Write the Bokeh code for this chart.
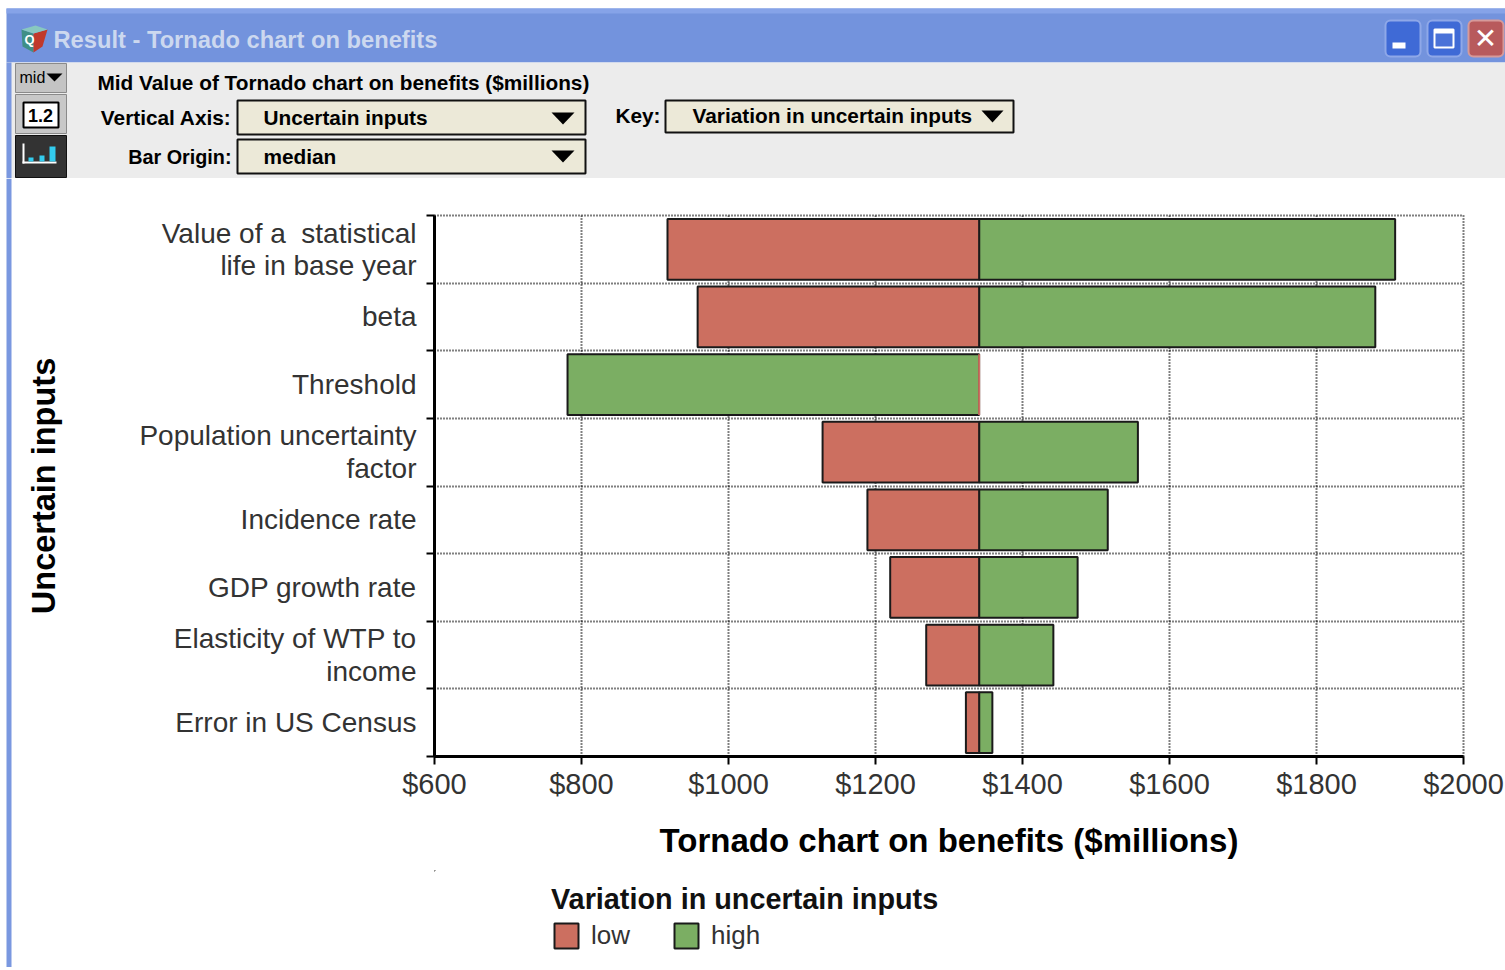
from bokeh.embed import file_html
from bokeh.resources import INLINE
from bokeh.plotting import figure, ColumnDataSource
from bokeh.core.properties import value
from bokeh.layouts import column, row
from bokeh.models import FixedTicker, Range1d, Legend, LegendItem

categories = ["Value of a\u00a0 statistical\nlife in base year", "beta", "Threshold",
              "Population uncertainty\nfactor", "Incidence rate", "GDP growth rate",
              "Elasticity of WTP to\nincome", "Error in US Census"]
low_values = [917, 958, 1341, 1128, 1189, 1220, 1269, 1323]
high_values = [1907, 1880, 781, 1557, 1516, 1475, 1442, 1359]
median_value = 1341
x_ticks = [600, 800, 1000, 1200, 1400, 1600, 1800, 2000]
x_tick_labels = ["$600", "$800", "$1000", "$1200", "$1400", "$1600", "$1800", "$2000"]
series_names = ["low", "high"]

RED = "#cc6f60"
GREEN = "#7bae63"
EDGE = "#1a1a1a"
W, H = 1505, 970
TOP_H = 178      # window header strip
LEFT_W = 12      # window left border
BOT_H = 3        # window bottom border
LEG_H = 97       # legend strip
FRAME_L = 434    # left edge of the plot frame
CW, CH = W - LEFT_W, H - TOP_H - BOT_H - LEG_H
CHART_BOTTOM = TOP_H + CH

p = figure(width=CW, height=CH, output_backend="svg", toolbar_location=None,
           x_range=Range1d(600, 2000), y_range=Range1d(8, 0),
           min_border_left=FRAME_L - LEFT_W, min_border_right=W - 1463,
           min_border_top=215 - TOP_H, min_border_bottom=CHART_BOTTOM - 756,
           outline_line_color="black", outline_line_dash="1 2", outline_line_width=2,
           background_fill_color="white", border_fill_color="white")

rows = list(range(len(categories)))
centres = [r + 0.5 for r in rows]
bounds = list(range(len(categories) + 1))
src = ColumnDataSource(dict(y=centres, low=low_values, high=high_values,
                            mid=[median_value] * len(rows),
                            low_edge=[RED if l == median_value else EDGE for l in low_values]))
p.hbar(y="y", left="mid", right="high", height=0.9, source=src,
       fill_color=GREEN, line_color=EDGE, line_width=2)
p.hbar(y="y", left="low", right="mid", height=0.9, source=src,
       fill_color=RED, line_color="low_edge", line_width=2)

xa = p.xaxis[0]
xa.ticker = FixedTicker(ticks=x_ticks)
xa.major_label_overrides = dict(zip(x_ticks, x_tick_labels))
xa.major_label_text_font = "Liberation Sans"
xa.major_label_text_font_size = "29px"
xa.major_label_text_color = "#333333"
xa.major_label_standoff = 3
xa.major_tick_in = 0
xa.major_tick_out = 8
xa.major_tick_line_color = "black"
xa.major_tick_line_width = 2
xa.minor_tick_line_color = None
xa.axis_line_color = "black"
xa.axis_line_width = 3
xa.axis_label = "Tornado chart on benefits ($millions)"
xa.axis_label_text_font = "Liberation Sans"
xa.axis_label_text_font_style = "bold"
xa.axis_label_text_font_size = "33px"
xa.axis_label_text_color = "black"
xa.axis_label_standoff = 19

ya = p.yaxis[0]
ya.ticker = FixedTicker(ticks=centres, minor_ticks=bounds)
ya.major_label_overrides = dict(zip(centres, categories))
ya.major_label_text_font = "Liberation Sans"
ya.major_label_text_font_size = "28px"
ya.major_label_text_color = "#333333"
ya.major_label_text_line_height = 1.05
ya.major_label_standoff = 10
ya.major_tick_in = 0
ya.major_tick_out = 0
ya.minor_tick_in = 0
ya.minor_tick_out = 8
ya.minor_tick_line_color = "black"
ya.minor_tick_line_width = 2
ya.axis_line_color = "black"
ya.axis_line_width = 3
ya.axis_label = "Uncertain inputs"
ya.axis_label_text_font = "Liberation Sans"
ya.axis_label_text_font_style = "bold"
ya.axis_label_text_font_size = "32.5px"
ya.axis_label_text_color = "black"
ya.axis_label_standoff = 74

p.xgrid.ticker = FixedTicker(ticks=x_ticks)
p.ygrid.ticker = FixedTicker(ticks=bounds)
for g in (p.xgrid[0], p.ygrid[0]):
    g.grid_line_color = "black"
    g.grid_line_dash = "1 2"
    g.grid_line_width = 2


def strip(width, height, x0, y0):
    return figure(width=width, height=height, output_backend="svg", toolbar_location=None,
                  x_range=Range1d(x0, x0 + width), y_range=Range1d(y0 + height, y0),
                  x_axis_type=None, y_axis_type=None,
                  min_border=0, outline_line_color=None, background_fill_color="white",
                  border_fill_color="white")


top = strip(W, TOP_H, 0, 0)
left_bar = strip(LEFT_W, CH + LEG_H, 0, TOP_H)
bottom_bar = strip(W, BOT_H, 0, H - BOT_H)
leg = strip(CW, LEG_H, LEFT_W, CHART_BOTTOM)

# legend keys: same colours as the bars; their one row lies far outside the strip's range
key_src = ColumnDataSource(dict(y=[-10000], left=[-10000], right=[-10000]))
k_low = leg.hbar(y="y", left="left", right="right", height=1, source=key_src,
                 fill_color=RED, line_color=EDGE, line_width=2)
k_high = leg.hbar(y="y", left="left", right="right", height=1, source=key_src,
                  fill_color=GREEN, line_color=EDGE, line_width=2)
legend = Legend(items=[LegendItem(label=series_names[0], renderers=[k_low]),
                       LegendItem(label=series_names[1], renderers=[k_high])],
                orientation="horizontal", location=(551 - FRAME_L, H - BOT_H - 951),
                title="Variation in uncertain inputs", title_standoff=4,
                title_text_font="Liberation Sans", title_text_font_size="28.8px",
                title_text_font_style="bold", title_text_color="#111111",
                label_text_font="Liberation Sans", label_text_font_size="26px",
                label_text_color="#333333",
                glyph_width=30, glyph_height=31, label_standoff=10,
                spacing=41, margin=0, padding=0,
                background_fill_alpha=0, border_line_color=None)
leg.add_layout(legend, "center")


def box(l, t, r, b, color, line=None, lw=1, radius=0, f=top):
    f.quad(left=[l], right=[r], top=[t], bottom=[b], fill_color=color, line_color=line,
           line_width=lw, border_radius=radius)


def label(x, y, text, size, color="black", style="normal", align="left",
          font="Liberation Sans"):
    top.text(x=[x], y=[y], text=[text], text_font=value(font), text_font_size=f"{size}px",
             text_color=color, text_font_style=style, text_align=align,
             text_baseline="middle")


def arrow(l, r, t, b):
    top.patch([l, r, (l + r) / 2], [t, t, b], fill_color="black", line_color=None)


left_bar.quad(left=[6], right=[11], top=[TOP_H], bottom=[TOP_H + CH + LEG_H],
              fill_color="#7a98e0", line_color=None)
bottom_bar.quad(left=[6], right=[W], top=[H - BOT_H], bottom=[H],
                fill_color="#8ba3e2", line_color=None)

box(6, 8, W, 62, "#7393dd")
box(6, 8, W, 13, "#86a3e8")
box(6, 62, W, TOP_H, "#ececec")
box(6, 62, 11, TOP_H, "#7a98e0")
# title icon
top.patch([21, 33, 33, 22], [29, 33, 52, 46], fill_color="#3f8f86", line_color=None)
top.patch([33, 47, 42, 33], [33, 29, 46, 52], fill_color="#c0392b", line_color=None)
top.patch([21, 33, 47, 35], [29, 33, 29, 25], fill_color="#88c8c0", line_color=None)
label(24, 39, "Q", 13, "white", "bold")
label(53, 39, "Result - Tornado chart on benefits", 23.7, "#ccd8ef", "bold")
# window buttons
box(1385, 20, 1420, 56, "#3f6ad6", "#8fa8e8", 2, 5)
box(1392, 42, 1405, 48, "white")
box(1427, 20, 1461, 56, "#3f6ad6", "#8fa8e8", 2, 5)
box(1434, 29, 1453, 47, "#4a72d8", "white", 2)
box(1434, 29, 1453, 33, "white")
box(1468, 20, 1503, 56, "#b85a5c", "#d69a9a", 2, 5)
label(1485, 38, "✕", 28, "white", "bold", "center", font="DejaVu Sans")
# side buttons
box(15, 63, 66, 92, "#c4c4c4", "#8a8a8a")
label(19, 77, "mid", 16, "black")
arrow(46, 62, 73, 81)
box(15, 94, 66, 133, "#c8c8c8", "#8a8a8a")
box(23, 102, 58, 127, "white", "black", 2)
label(40, 115, "1.2", 18, "black", "bold", "center")
box(15, 135, 66, 177, "#333333", "#111111")
box(22, 161, 56, 163, "white")
box(22, 143, 24, 163, "white")
box(28, 157, 33, 161, "#33ccee")
box(39, 155, 44, 161, "#33ccee")
box(49, 146, 55, 161, "#33ccee")
# header controls
HS = 20.8
label(97, 82, "Mid Value of Tornado chart on benefits ($millions)", HS, "black", "bold")
label(231, 117, "Vertical Axis:", HS, "black", "bold", "right")
label(231, 156, "Bar Origin:", HS - 1, "black", "bold", "right")
label(660, 115, "Key:", HS, "black", "bold", "right")
box(237, 100, 585, 134, "#ece9d8", "#111111", 2)
box(237, 139, 585, 173, "#ece9d8", "#111111", 2)
box(665, 100, 1013, 132, "#ece9d8", "#111111", 2)
label(263, 117, "Uncertain inputs", HS, "black", "bold")
label(263, 156, "median", HS, "black", "bold")
label(692, 115, "Variation in uncertain inputs", HS, "black", "bold")
arrow(551, 574, 112, 124)
arrow(551, 574, 150, 162)
arrow(981, 1003, 110, 122)

page = column(top, row(left_bar, column(p, leg, spacing=0), spacing=0), bottom_bar, spacing=0)
open("out.html", "w").write(file_html(page, INLINE))
